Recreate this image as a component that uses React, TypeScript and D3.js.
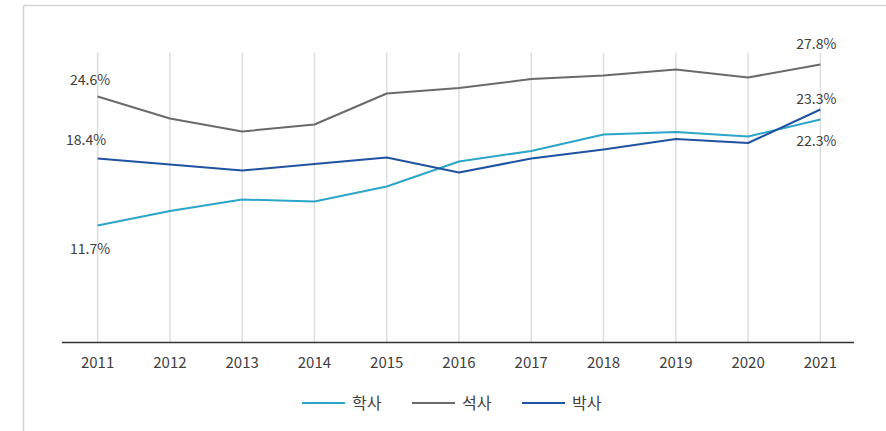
import React from "react";
import * as d3 from "d3";

const years = ["2011","2012","2013","2014","2015","2016","2017","2018","2019","2020","2021"];
const bachelor = [11.7, 13.15, 14.3, 14.1, 15.6, 18.1, 19.15, 20.8, 21.05, 20.6, 22.3];
const master = [24.6, 22.4, 21.1, 21.8, 24.9, 25.45, 26.35, 26.7, 27.3, 26.5, 27.8];
const doctor = [18.4, 17.8, 17.2, 17.85, 18.5, 17.0, 18.4, 19.3, 20.35, 19.95, 23.3];
const seriesNames = ["학사", "석사", "박사"];
const seriesColors = ["#2ba6c8", "#6a6a6a", "#1f52a0"];

const W = 886;
const H = 431;
const FONT = "'Malgun Gothic', 'Noto Sans CJK KR', sans-serif";

export default function App() {
  const x = d3.scaleBand<string>().domain(years).range([61.5, 856.5]);
  const cx = (yr: string) => (x(yr) as number) + x.bandwidth() / 2;
  const y = d3.scaleLinear().domain([0, 29]).range([342.5, 52.5]);
  const data = [bachelor, master, doctor];
  const line = d3.line<number>().x((_, i) => cx(years[i])).y((v) => y(v));

  const first = years[0];
  const last = years[years.length - 1];
  const n = years.length - 1;
  const labels = [
    { yr: first, v: bachelor[0], dx: -7.5, dy: 28 },
    { yr: first, v: master[0], dx: -7.5, dy: -12 },
    { yr: first, v: doctor[0], dx: -11.5, dy: -14 },
    { yr: last, v: bachelor[n], dx: -4, dy: 26 },
    { yr: last, v: master[n], dx: -4, dy: -15.5 },
    { yr: last, v: doctor[n], dx: -4, dy: -5.5 },
  ];

  const legendX = [302, 412, 522];

  return (
    <svg width={W} height={H} style={{ position: "absolute", left: 0, top: 0, background: "#fff" }}>
      <rect x={0} y={0} width={W} height={H} fill="#fff" />
      {/* frame */}
      <line x1={23.5} y1={5.5} x2={W} y2={5.5} stroke="#d4d4d4" strokeWidth={1.5} />
      <line x1={23.5} y1={5.5} x2={23.5} y2={H} stroke="#d4d4d4" strokeWidth={1.5} />
      {/* gridlines */}
      {years.map((yr) => (
        <line key={yr} x1={cx(yr)} x2={cx(yr)} y1={y(29)} y2={y(0)} stroke="#dedede" strokeWidth={1.5} />
      ))}
      {/* axis */}
      <line x1={62} x2={854} y1={y(0)} y2={y(0)} stroke="#333" strokeWidth={1.5} />
      {years.map((yr) => (
        <text key={yr} x={cx(yr)} y={367.5} textAnchor="middle" fontFamily={FONT} fontSize={15} fill="#404040">
          {yr}
        </text>
      ))}
      {/* lines */}
      {data.map((d, i) => (
        <path key={i} d={line(d) || ""} fill="none" stroke={seriesColors[i]} strokeWidth={2} strokeLinejoin="round" />
      ))}
      {/* labels */}
      {labels.map((l, i) => (
        <text key={i} x={cx(l.yr) + l.dx} y={y(l.v) + l.dy} textAnchor="middle" fontFamily={FONT} fontSize={14} fill="#404040">
          {l.v.toFixed(1)}%
        </text>
      ))}
      {/* legend */}
      {seriesNames.map((name, i) => (
        <g key={name} transform={`translate(${legendX[i]},403)`}>
          <line x1={0} x2={43} y1={0} y2={0} stroke={seriesColors[i]} strokeWidth={2} />
          <text x={50} y={6} fontFamily={FONT} fontSize={16} fill="#404040">{name}</text>
        </g>
      ))}
    </svg>
  );
}
